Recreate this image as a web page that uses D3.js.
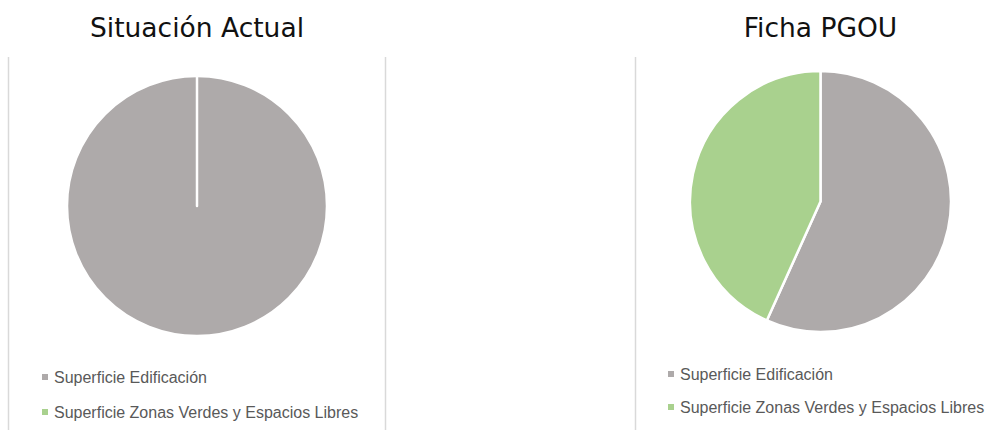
<!DOCTYPE html>
<html>
<head>
<meta charset="utf-8">
<script src="https://cdn.jsdelivr.net/npm/d3@7"></script>
<style>
  html, body { margin: 0; padding: 0; background: #fff; }
</style>
</head>
<body>
<script>
// Datos: categorías y porcentajes de superficie
const categories = ["Superficie Edificación", "Superficie Zonas Verdes y Espacios Libres"];
const colors = ["#aeaaaa", "#a9d18e"];
const actualValues = [100, 0];
const pgouValues = [56.75, 43.25];
const titles = ["Situación Actual", "Ficha PGOU"];

const width = 992, height = 430;

const svg = d3.select("body").append("svg")
  .attr("width", width).attr("height", height)
  .attr("viewBox", [0, 0, width, height]);

const color = d3.scaleOrdinal().domain(categories).range(colors);
const pie = d3.pie().sort(null).value(d => d.value);

function pieChart({values, title, cx, cy, r, titleY, legendX, legendY, legendGap}) {
  const g = svg.append("g");

  g.append("text")
    .attr("x", cx).attr("y", titleY)
    .attr("text-anchor", "middle")
    .attr("font-family", "DejaVu Sans, Verdana, sans-serif")
    .attr("font-size", 26.5).attr("fill", "#111")
    .text(title);

  const arc = d3.arc().innerRadius(0).outerRadius(r);
  const data = categories.map((c, i) => ({cat: c, value: values[i]}));

  g.append("g").attr("transform", `translate(${cx},${cy})`)
    .selectAll("path")
    .data(pie(data))
    .join("path")
    .attr("d", arc)
    .attr("fill", d => color(d.data.cat))
    .attr("stroke", "#fff")
    .attr("stroke-width", 2.5)
    .attr("stroke-linejoin", "round");

  // Leyenda
  const leg = g.append("g").attr("transform", `translate(${legendX},${legendY})`);
  categories.forEach((c, i) => {
    const row = leg.append("g").attr("transform", `translate(0,${i * legendGap})`);
    row.append("rect")
      .attr("x", 0).attr("y", -3).attr("width", 6).attr("height", 6)
      .attr("fill", color(c));
    row.append("text")
      .attr("x", 12).attr("y", 0).attr("dy", "0.35em")
      .attr("font-family", "Liberation Sans, Arial, sans-serif")
      .attr("font-size", 16).attr("fill", "#595959")
      .text(c);
  });
}

// Bordes de los gráficos (recortados)
const borders = [8.5, 385.5, 635.5];
svg.append("g").selectAll("line")
  .data(borders)
  .join("line")
  .attr("x1", d => d).attr("x2", d => d)
  .attr("y1", 57).attr("y2", height)
  .attr("stroke", "#d9d9d9").attr("stroke-width", 1.5);

pieChart({values: actualValues, title: titles[0], cx: 197, cy: 206, r: 130,
  titleY: 37, legendX: 42, legendY: 377, legendGap: 35});
pieChart({values: pgouValues, title: titles[1], cx: 820.5, cy: 201.5, r: 130.5,
  titleY: 37, legendX: 668, legendY: 374, legendGap: 33});
</script>
</body>
</html>
